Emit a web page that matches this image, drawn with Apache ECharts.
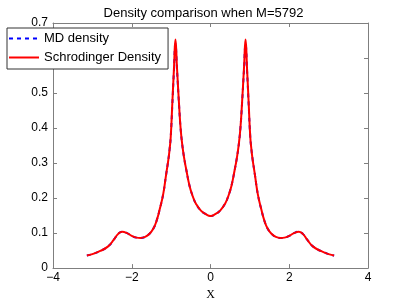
<!DOCTYPE html>
<html>
<head>
<meta charset="utf-8">
<script src="https://cdn.jsdelivr.net/npm/echarts@6/dist/echarts.min.js"></script>
<style>html,body{margin:0;padding:0;background:#fff}#c{width:407px;height:306px}</style>
</head>
<body>
<div id="c"></div>
<script>
const xTicks = [-4, -2, 0, 2, 4];
const yTicks = [0, 0.1, 0.2, 0.3, 0.4, 0.5, 0.6, 0.7];
const xValues = [-3.14,-3.0,-2.8,-2.6,-2.45,-2.35,-2.24,-2.12,-2.0,-1.88,-1.78,-1.66,-1.55,-1.45,-1.37,-1.29,-1.2,-1.13,-1.07,-1.04,-1.01,-0.97,-0.93,-0.89,-0.85,-0.8,-0.76,-0.72,-0.67,-0.61,-0.53,-0.45,-0.37,-0.25,-0.12,0,
  0.12,0.25,0.37,0.45,0.53,0.61,0.67,0.72,0.76,0.8,0.85,0.89,0.93,0.97,1.01,1.04,1.07,1.13,1.2,1.29,1.37,1.45,1.55,1.66,1.78,1.88,2.0,2.12,2.24,2.35,2.45,2.6,2.8,3.0,3.14];
const schrodinger = [0.036,0.040,0.049,0.062,0.082,0.097,0.104,0.100,0.092,0.087,0.086,0.089,0.098,0.113,0.135,0.168,0.212,0.265,0.31,0.338,0.375,0.47,0.565,0.653,0.57,0.47,0.40,0.355,0.315,0.278,0.234,0.205,0.184,0.165,0.154,0.149,
  0.154,0.165,0.184,0.205,0.234,0.278,0.315,0.355,0.40,0.47,0.57,0.653,0.565,0.47,0.375,0.338,0.31,0.265,0.212,0.168,0.135,0.113,0.098,0.089,0.086,0.087,0.092,0.100,0.104,0.097,0.082,0.062,0.049,0.040,0.036];
const md = [0.036,0.040,0.049,0.062,0.082,0.097,0.104,0.100,0.092,0.087,0.086,0.089,0.098,0.113,0.135,0.168,0.212,0.265,0.31,0.338,0.375,0.465,0.56,0.64,0.565,0.468,0.40,0.355,0.315,0.278,0.234,0.205,0.184,0.165,0.154,0.149,
  0.154,0.165,0.184,0.205,0.234,0.278,0.315,0.355,0.40,0.468,0.565,0.64,0.56,0.465,0.375,0.338,0.31,0.265,0.212,0.168,0.135,0.113,0.098,0.089,0.086,0.087,0.092,0.100,0.104,0.097,0.082,0.062,0.049,0.040,0.036];

const font = 'Liberation Sans, Arial, sans-serif';
const axisColor = '#7f7f7f';
const chart = echarts.init(document.getElementById('c'), null, {renderer: 'canvas'});
const fmt = v => String(v).replace('-', '\u2212');
const mk = () => ({
  axisLine: {show: true, onZero: false, lineStyle: {color: axisColor, width: 1}},
  axisTick: {show: true, inside: true, length: 4, lineStyle: {color: axisColor}},
  splitLine: {show: false}
});
chart.setOption({
  animation: false,
  title: {text: 'Density comparison when M=5792', left: 'center', top: 2,
    textStyle: {fontFamily: font, fontSize: 13, fontWeight: 'normal', color: '#000'}},
  grid: {left: 53, right: 39, top: 23, bottom: 34},
  legend: {
    orient: 'vertical', left: 7, top: 28, itemWidth: 30, itemHeight: 13, itemGap: 6,
    padding: [4, 7, 5, 1], backgroundColor: '#fff', borderColor: '#333', borderWidth: 1,
    itemStyle: {opacity: 0},
    textStyle: {fontFamily: font, fontSize: 13, color: '#000'},
    data: ['MD density', 'Schrodinger Density']
  },
  xAxis: [
    Object.assign(mk(), {type: 'value', min: xTicks[0], max: xTicks[xTicks.length-1], interval: 2, position: 'bottom',
      name: 'X', nameLocation: 'middle', nameGap: 17,
      nameTextStyle: {fontFamily: 'Liberation Serif, Times New Roman, serif', fontSize: 12, color: '#000'},
      axisLabel: {formatter: fmt, fontFamily: font, fontSize: 12, color: '#000', margin: 4}}),
    Object.assign(mk(), {type: 'value', min: -4, max: 4, interval: 2, position: 'top', axisLabel: {show: false}})
  ],
  yAxis: [
    Object.assign(mk(), {type: 'value', min: yTicks[0], max: yTicks[yTicks.length-1], interval: 0.1, position: 'left',
      axisLabel: {formatter: v => String(Math.round(v*10)/10), fontFamily: font, fontSize: 12, color: '#000', margin: 5}}),
    Object.assign(mk(), {type: 'value', min: 0, max: 0.7, interval: 0.1, position: 'right', axisLabel: {show: false}})
  ],
  series: [
    {name: 'MD density', type: 'line', smooth: 0.5, symbol: 'none',
      lineStyle: {color: '#0000ff', width: 2, type: [4, 4]}, itemStyle: {color: '#0000ff'},
      data: xValues.map((x, i) => [x, md[i]])},
    {name: 'Schrodinger Density', type: 'line', smooth: 0.5, symbol: 'none',
      lineStyle: {color: '#ff0000', width: 2}, itemStyle: {color: '#ff0000'},
      data: xValues.map((x, i) => [x, schrodinger[i]])}
  ]
});
</script>
</body>
</html>
